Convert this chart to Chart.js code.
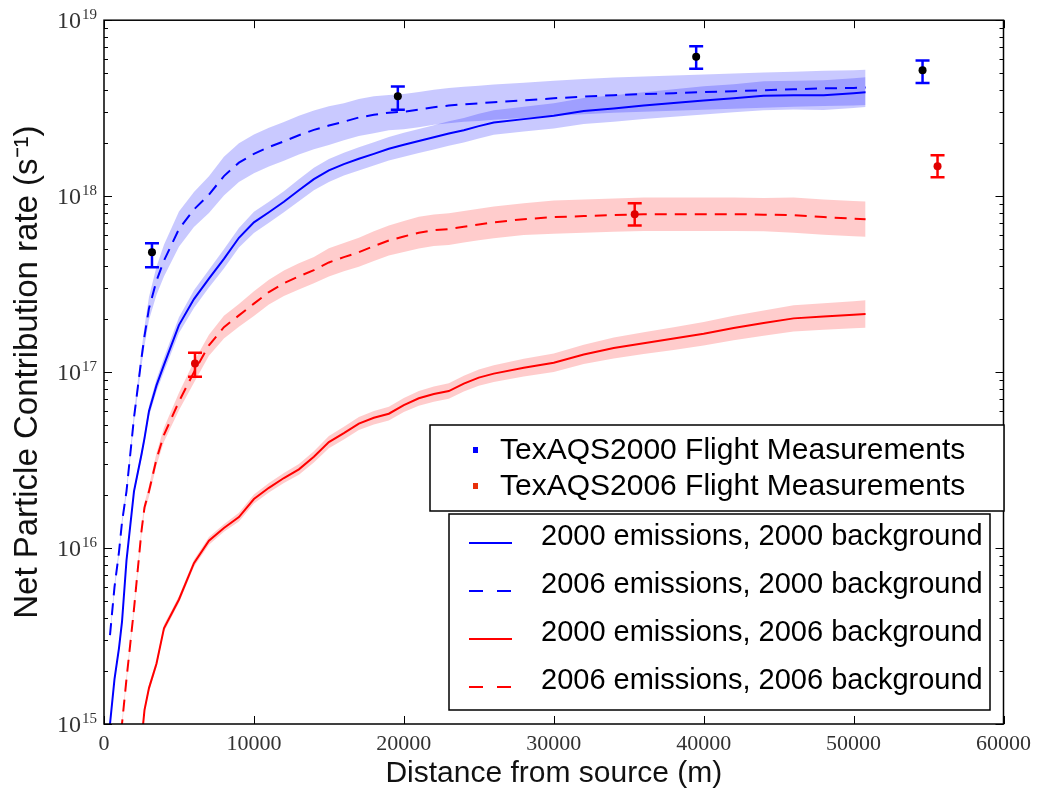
<!DOCTYPE html>
<html>
<head>
<meta charset="utf-8">
<script src="https://cdn.jsdelivr.net/npm/chart.js@4.4.1/dist/chart.umd.min.js"></script>
<style>
    html, body { margin: 0; padding: 0; background: #fff; }
    #wrap { width: 1038px; height: 792px; }
</style>
</head>
<body>
<div id="wrap"><canvas id="rateChart" width="1038" height="792"></canvas></div>
<script>
// distance from source (m), shared grid for the model curves
const distance = [
    400, 700, 1000, 1200, 1500, 2000, 2500, 2700, 3000, 3500,
    4000, 5000, 6000, 7000, 8000, 9000, 10000, 11000, 12000, 13000,
    14000, 15000, 16000, 17000, 18000, 19000, 20000, 21000, 22000, 23000,
    24000, 25000, 26000, 28000, 30000, 32000, 34000, 36000, 38000, 40000,
    42000, 44000, 46000, 48000, 50000, 50800
];

// 2000 emissions, 2000 background
const em2000bg2000 = [
    1e15, 1.8e15, 2.7e15, 3.8e15, 8.5e15, 2.1e16, 3.4e16, 4.2e16, 6.0e16, 8.4e16,
    1.1e17, 1.85e17, 2.6e17, 3.4e17, 4.4e17, 5.8e17, 7.1e17, 8.1e17, 9.3e17, 1.08e18,
    1.25e18, 1.4e18, 1.52e18, 1.63e18, 1.74e18, 1.86e18, 1.96e18, 2.06e18, 2.16e18, 2.27e18,
    2.37e18, 2.5e18, 2.62e18, 2.74e18, 2.86e18, 3.05e18, 3.15e18, 3.27e18, 3.38e18, 3.5e18,
    3.6e18, 3.72e18, 3.75e18, 3.75e18, 3.85e18, 3.9e18
];
// 2006 emissions, 2000 background
const em2006bg2000 = [
    3.2e15, 6e15, 9.5e15, 1.4e16, 2.1e16, 5.5e16, 1.2e17, 1.6e17, 2.3e17, 3.3e17,
    4.3e17, 6.5e17, 8.4e17, 1.02e18, 1.3e18, 1.55e18, 1.74e18, 1.9e18, 2.05e18, 2.22e18,
    2.38e18, 2.52e18, 2.65e18, 2.8e18, 2.9e18, 2.98e18, 3.02e18, 3.1e18, 3.2e18, 3.27e18,
    3.33e18, 3.37e18, 3.42e18, 3.5e18, 3.6e18, 3.68e18, 3.75e18, 3.8e18, 3.85e18, 3.9e18,
    3.95e18, 4.0e18, 4.05e18, 4.1e18, 4.12e18, 4.15e18
];
// 2000 emissions, 2006 background
const em2000bg2006 = [
    null, null, null, null, null, null, 8e14, 1.2e15, 1.6e15, 2.2e15,
    3.5e15, 5.1e15, 8.2e15, 1.1e16, 1.3e16, 1.5e16, 1.9e16, 2.2e16, 2.5e16, 2.8e16,
    3.3e16, 4.0e16, 4.5e16, 5.1e16, 5.5e16, 5.8e16, 6.5e16, 7.1e16, 7.5e16, 7.8e16,
    8.6e16, 9.3e16, 9.8e16, 1.06e17, 1.13e17, 1.26e17, 1.37e17, 1.46e17, 1.55e17, 1.65e17,
    1.78e17, 1.9e17, 2.02e17, 2.07e17, 2.12e17, 2.14e17
];
// 2006 emissions, 2006 background
const em2006bg2006 = [
    null, null, 7e14, 1e15, 1.8e15, 4.5e15, 1.25e16, 1.7e16, 2.1e16, 3.2e16,
    4.4e16, 6.8e16, 1.0e17, 1.42e17, 1.8e17, 2.1e17, 2.45e17, 2.85e17, 3.2e17, 3.5e17,
    3.8e17, 4.2e17, 4.5e17, 4.8e17, 5.2e17, 5.6e17, 5.9e17, 6.2e17, 6.4e17, 6.5e17,
    6.7e17, 6.9e17, 7.1e17, 7.4e17, 7.6e17, 7.7e17, 7.8e17, 7.9e17, 7.9e17, 7.9e17,
    7.9e17, 7.85e17, 7.8e17, 7.6e17, 7.45e17, 7.4e17
];

// half width of the shaded spread, in decades
const spread2000bg2000 = [
    0.02, 0.02, 0.02, 0.02, 0.02, 0.02, 0.025, 0.025, 0.03, 0.035,
    0.04, 0.045, 0.05, 0.05, 0.055, 0.055, 0.06, 0.06, 0.06, 0.062,
    0.064, 0.065, 0.065, 0.066, 0.066, 0.067, 0.068, 0.068, 0.069, 0.07,
    0.07, 0.07, 0.07, 0.07, 0.072, 0.074, 0.075, 0.076, 0.078, 0.08,
    0.08, 0.082, 0.082, 0.084, 0.085, 0.085
];
const spread2006bg2000 = [
    0.02, 0.02, 0.02, 0.02, 0.02, 0.03, 0.045, 0.055, 0.065, 0.08,
    0.09, 0.1, 0.1, 0.105, 0.11, 0.11, 0.11, 0.11, 0.11, 0.11,
    0.11, 0.11, 0.105, 0.105, 0.105, 0.1, 0.1, 0.1, 0.1, 0.1,
    0.1, 0.1, 0.1, 0.1, 0.1, 0.1, 0.1, 0.1, 0.1, 0.1,
    0.1, 0.1, 0.1, 0.1, 0.1, 0.1
];
const spread2000bg2006 = [
    0.02, 0.02, 0.02, 0.02, 0.02, 0.02, 0.02, 0.02, 0.02, 0.02,
    0.02, 0.02, 0.02, 0.022, 0.022, 0.025, 0.025, 0.027, 0.028, 0.03,
    0.032, 0.035, 0.036, 0.037, 0.038, 0.039, 0.04, 0.042, 0.043, 0.044,
    0.045, 0.046, 0.047, 0.05, 0.052, 0.055, 0.06, 0.062, 0.065, 0.067,
    0.07, 0.072, 0.075, 0.075, 0.077, 0.078
];
const spread2006bg2006 = [
    0.02, 0.02, 0.02, 0.02, 0.02, 0.02, 0.025, 0.025, 0.03, 0.035,
    0.04, 0.05, 0.06, 0.06, 0.065, 0.065, 0.07, 0.07, 0.072, 0.075,
    0.075, 0.08, 0.08, 0.082, 0.085, 0.085, 0.088, 0.09, 0.09, 0.09,
    0.09, 0.09, 0.09, 0.09, 0.095, 0.095, 0.095, 0.095, 0.095, 0.095,
    0.095, 0.095, 0.1, 0.1, 0.1, 0.1
];

// flight measurements with error bars
const flight2000X = [3200, 19600, 39500, 54600];
const flight2000Y = [4.8e17, 3.7e18, 6.2e18, 5.2e18];
const flight2000Lo = [3.95e17, 3.1e18, 5.3e18, 4.4e18];
const flight2000Hi = [5.4e17, 4.2e18, 7.1e18, 5.9e18];

const flight2006X = [6070, 35400, 55600];
const flight2006Y = [1.12e17, 7.9e17, 1.48e18];
const flight2006Lo = [9.4e16, 6.8e17, 1.28e18];
const flight2006Hi = [1.29e17, 9.1e17, 1.71e18];

const xTickValues = [0, 10000, 20000, 30000, 40000, 50000, 60000];
const yDecades = [15, 16, 17, 18, 19];
const yMinorSteps = [2, 3, 4, 5, 6, 7, 8, 9];

function isDecade(v) {
    const l = Math.log10(v);
    return Math.abs(l - Math.round(l)) < 1e-9;
}

function curve(values) {
    return distance.map((d, i) => ({x: d, y: values[i]}));
}

function band(values, spread, sign) {
    return distance.map((d, i) => ({
        x: d,
        y: values[i] == null ? null : values[i] * Math.pow(10, sign * spread[i])
    }));
}

function errorSegments(xs, lo, hi) {
    const pts = [];
    xs.forEach((x, i) => {
        pts.push({x: x, y: lo[i]}, {x: x, y: hi[i]}, {x: x, y: null});
    });
    return pts;
}

function points(xs, ys) {
    return xs.map((x, i) => ({x: x, y: ys[i]}));
}

const BLUE = '#0000ff';
const RED = '#ff0000';
const BLUE_BAND = 'rgba(0, 0, 255, 0.21)';
const RED_BAND = 'rgba(255, 0, 0, 0.2)';
const SERIF = '"Liberation Serif", "DejaVu Serif", serif';
const SANS = '"Liberation Sans", Arial, sans-serif';

function bandPair(values, spread, color) {
    return [
        {data: band(values, spread, 1), borderWidth: 0, pointRadius: 0, fill: '+1', backgroundColor: color, order: 3},
        {data: band(values, spread, -1), borderWidth: 0, pointRadius: 0, fill: false, order: 3}
    ];
}

function modelLine(values, color, dashed) {
    return {
        data: curve(values), borderColor: color, borderWidth: 2, pointRadius: 0,
        borderDash: dashed ? [12, 8] : [], fill: false, order: 2
    };
}

// inward ticks on all four sides, frame, and power-of-ten labels
const frameTicks = {
    id: 'frameTicks',
    afterDatasetsDraw(chart) {
        const {ctx, chartArea: a, scales: {x, y}} = chart;
        ctx.save();
        ctx.strokeStyle = '#000';
        ctx.lineWidth = 1;
        ctx.beginPath();
        x.ticks.forEach(t => {
            const px = Math.round(x.getPixelForValue(t.value)) + 0.5;
            ctx.moveTo(px, a.bottom); ctx.lineTo(px, a.bottom - 8);
            ctx.moveTo(px, a.top); ctx.lineTo(px, a.top + 8);
        });
        y.ticks.forEach(t => {
            const py = Math.round(y.getPixelForValue(t.value)) + 0.5;
            const len = isDecade(t.value) ? 8 : 4;
            ctx.moveTo(a.left, py); ctx.lineTo(a.left + len, py);
            ctx.moveTo(a.right, py); ctx.lineTo(a.right - len, py);
        });
        ctx.stroke();
        ctx.lineWidth = 1.5;
        ctx.strokeRect(a.left, a.top, a.right - a.left, a.bottom - a.top);

        ctx.fillStyle = '#333';
        y.ticks.forEach(t => {
            if (!isDecade(t.value)) return;
            const py = y.getPixelForValue(t.value);
            const exp = String(Math.round(Math.log10(t.value)));
            ctx.font = '15px ' + SERIF;
            ctx.textAlign = 'right';
            ctx.textBaseline = 'alphabetic';
            ctx.fillText(exp, a.left - 7, py - 1);
            const ew = ctx.measureText(exp).width;
            ctx.font = '24px ' + SERIF;
            ctx.textBaseline = 'middle';
            ctx.fillText('10', a.left - 8 - ew, py + 2);
        });
        ctx.restore();
    }
};

const legendBoxes = {
    id: 'legendBoxes',
    afterDraw(chart) {
        const ctx = chart.ctx;
        ctx.save();
        ctx.lineWidth = 1.5;
        ctx.strokeStyle = '#000';
        ctx.textBaseline = 'middle';

        // flight measurements
        ctx.font = '30px ' + SANS;
        ctx.fillStyle = '#fff';
        ctx.fillRect(430, 425, 574, 86);
        ctx.strokeRect(430, 425, 574, 86);
        [['TexAQS2000 Flight Measurements', BLUE, 450], ['TexAQS2006 Flight Measurements', '#e8300a', 486]].forEach(([label, c, ty]) => {
            ctx.fillStyle = c;
            ctx.fillRect(473, ty - 3, 5, 6);
            ctx.fillStyle = '#000';
            ctx.fillText(label, 500, ty + 1);
        });

        // model runs
        ctx.font = '29px ' + SANS;
        ctx.fillStyle = '#fff';
        ctx.fillRect(449, 514, 541, 196);
        ctx.strokeRect(449, 514, 541, 196);
        const rows = [
            ['2000 emissions, 2000 background', BLUE, false, 543],
            ['2006 emissions, 2000 background', BLUE, true, 591],
            ['2000 emissions, 2006 background', RED, false, 639],
            ['2006 emissions, 2006 background', RED, true, 687]
        ];
        rows.forEach(([label, c, dashed, ty]) => {
            ctx.strokeStyle = c;
            ctx.lineWidth = 2;
            ctx.setLineDash(dashed ? [14, 14] : []);
            ctx.beginPath();
            ctx.moveTo(469, ty); ctx.lineTo(512, ty);
            ctx.stroke();
            ctx.setLineDash([]);
            ctx.fillStyle = '#000';
            ctx.fillText(label, 541, ty - 6);
        });
        ctx.restore();
    }
};

const datasets = [
    {
        data: points(flight2000X, flight2000Y), showLine: false, pointRadius: 4,
        pointBackgroundColor: '#000', pointBorderWidth: 0, order: 0
    },
    {
        data: points(flight2006X, flight2006Y), showLine: false, pointRadius: 4,
        pointBackgroundColor: '#e00000', pointBorderWidth: 0, order: 0
    },
    {
        data: errorSegments(flight2000X, flight2000Lo, flight2000Hi), borderColor: BLUE, borderWidth: 2.5,
        pointStyle: 'line', pointRadius: 7, pointBorderColor: BLUE, pointBorderWidth: 2.5, spanGaps: false, order: 1
    },
    {
        data: errorSegments(flight2006X, flight2006Lo, flight2006Hi), borderColor: RED, borderWidth: 2.5,
        pointStyle: 'line', pointRadius: 7, pointBorderColor: RED, pointBorderWidth: 2.5, spanGaps: false, order: 1
    },
    modelLine(em2000bg2000, BLUE, false),
    modelLine(em2006bg2000, BLUE, true),
    modelLine(em2000bg2006, RED, false),
    modelLine(em2006bg2006, RED, true),
    ...bandPair(em2006bg2000, spread2006bg2000, BLUE_BAND),
    ...bandPair(em2000bg2000, spread2000bg2000, BLUE_BAND),
    ...bandPair(em2006bg2006, spread2006bg2006, RED_BAND),
    ...bandPair(em2000bg2006, spread2000bg2006, RED_BAND)
];

const ctx = document.getElementById('rateChart').getContext('2d');
new Chart(ctx, {
    type: 'line',
    data: {datasets: datasets},
    plugins: [frameTicks, legendBoxes],
    options: {
        responsive: false,
        animation: false,
        layout: {padding: {left: 0, top: 20, right: 34, bottom: 0}},
        plugins: {legend: {display: false}, tooltip: {enabled: false}},
        elements: {line: {tension: 0}},
        scales: {
            x: {
                type: 'linear', min: 0, max: 60000,
                grid: {display: false, drawTicks: false},
                border: {display: false},
                afterBuildTicks(scale) {
                    scale.ticks = xTickValues.map(v => ({value: v}));
                },
                afterFit(scale) { scale.height = 68; },
                ticks: {
                    autoSkip: false, maxRotation: 0, padding: 7, color: '#333',
                    font: {family: SERIF, size: 22},
                    callback: v => String(v)
                },
                title: {
                    display: true, text: 'Distance from source (m)', color: '#111',
                    font: {family: SANS, size: 30, lineHeight: 1.2},
                    padding: {top: 0, bottom: 0}
                }
            },
            y: {
                type: 'logarithmic', min: 1e15, max: 1e19,
                grid: {display: false, drawTicks: false},
                border: {display: false},
                afterBuildTicks(scale) {
                    const t = [];
                    yDecades.forEach(d => {
                        t.push({value: Math.pow(10, d), major: true});
                        if (d < yDecades[yDecades.length - 1]) {
                            yMinorSteps.forEach(m => t.push({value: m * Math.pow(10, d)}));
                        }
                    });
                    scale.ticks = t;
                },
                afterFit(scale) { scale.width = 104; },
                ticks: {
                    autoSkip: false, padding: 7,
                    font: {family: SERIF, size: 22},
                    // labels are drawn by frameTicks with a raised exponent
                    callback: () => ''
                },
                title: {
                    display: true, text: 'Net Particle Contribution rate (s⁻¹)', color: '#111',
                    font: {family: SANS, size: 33, lineHeight: 1.2},
                    padding: {top: 8, bottom: 0}
                }
            }
        }
    }
});
</script>
</body>
</html>
